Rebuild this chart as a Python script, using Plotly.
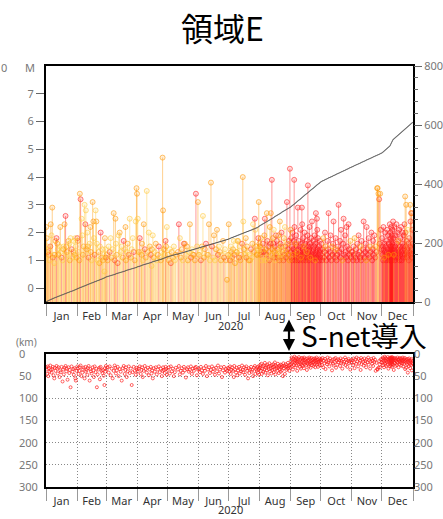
import datetime as dt
from collections import Counter
import plotly.graph_objects as go

W, H = 443, 519

# ---- data: events of 2020, grouped by month (day of month, magnitude, depth km) ----
event_day = [
    [1,1,2,2,3,3,4,5,5,6,7,7,8,9,9,10,11,12,12,13,14,15,15,16,17,18,18,19,20,21,21,22,23,24,24,25,26,27,28,28,29,30,30,31],
    [1,1,2,3,3,4,5,6,6,7,8,9,9,10,11,11,12,13,14,14,15,16,17,17,18,19,20,20,21,22,23,23,24,25,26,26,27,28,28,29,29],
    [1,2,3,4,5,6,7,8,9,10,10,11,12,13,14,15,16,17,18,19,20,20,21,22,23,24,25,26,27,28,29,30,31,31],
    [1,2,3,4,5,5,6,7,8,9,10,11,12,13,14,15,15,16,17,18,19,20,21,22,23,24,25,26,26,27,28,29,29,30],
    [1,2,3,4,5,6,7,8,9,11,12,13,14,15,16,17,18,19,20,21,22,23,24,25,26,27,28,29,30,31],
    [1,2,3,4,5,6,7,8,9,10,11,12,13,14,15,16,17,18,19,20,21,22,23,24,25,26,27,28,29,30],
    [1,1,2,3,3,4,5,6,6,7,8,9,9,10,11,12,12,13,14,15,15,16,17,18,18,19,20,21,21,22,23,24,24,25,26,27,27,28,29,29,30,30,31,31,31],
    [1,1,2,2,3,3,4,4,5,5,6,6,7,7,8,8,9,9,10,10,11,11,12,12,13,13,14,14,15,15,15,16,16,17,17,18,18,19,19,20,20,21,21,22,22,22,23,23,24,24,25,25,26,26,27,27,28,28,29,29,30,30,31,31],
    [1,1,1,2,2,2,3,3,4,4,4,5,5,5,6,6,6,7,7,7,8,8,8,9,9,10,10,10,11,11,11,12,12,12,13,13,13,14,14,14,15,15,15,16,16,17,17,17,18,18,18,19,19,19,20,20,20,21,21,21,22,22,23,23,23,24,24,24,25,25,25,26,26,26,27,27,27,28,28,29,29,29,30,30,30],
    [1,1,2,2,3,4,4,5,5,6,7,7,8,8,9,10,10,11,12,12,13,13,14,15,15,16,16,17,18,18,19,20,20,21,21,22,23,23,24,25,25,26,26,27,28,28,29,29,30,31,31],
    [1,2,2,3,3,4,5,5,6,7,7,8,9,9,10,10,11,12,12,13,14,14,15,15,16,17,17,18,19,19,20,21,21,22,22,23,24,24,25,26,26,27,28,28,29,29,30],
    [1,1,1,2,2,2,3,3,3,4,4,4,5,5,5,6,6,6,7,7,7,8,8,8,
     9,9,9,9,9,9,9,10,10,10,10,10,10,10,11,11,11,11,11,11,11,
     12,12,12,13,13,13,14,14,14,15,15,15,16,16,16,17,17,17,18,18,18,19,19,19,20,20,20,21,21,21,
     22,22,22,23,23,23,24,24,24,25,25,25,26,26,26,27,27,27,28,28,28,29,29,29,30,30,30,31,31,31],
]

event_mag = [
    [2.2,1.8,1.5,1.3,1.4,1.2,1.0,1.5,2.3,1.9, 2.9,1.1,1.2,0.9,1.2,1.7,1.8,1.6,1.4,1.2,
     1.5,2.2,1.3,1.1,1.0,1.4,1.5,2.3,2.6,1.5, 1.3,1.2,1.7,1.6,1.0,1.8,1.4,1.1,1.3,1.7, 1.2,1.8,1.5,1.1],
    [1.8,1.7,1.3,1.0,3.4,3.2,2.5,1.9,1.2,1.5, 3.0,2.3,2.8,1.4,2.0,1.5,1.1,1.6,2.2,1.3,
     1.0,3.1,2.4,1.8,1.2,2.8,2.4,1.6,1.0,1.3, 0.9,1.5,2.0,1.1,1.4,1.0,1.2,0.6,1.8,1.4, 1.1],
    [1.2,1.0,1.5,1.3,1.8,1.1,1.4,2.7,1.0,2.5, 1.6,1.2,0.9,1.9,2.0,1.3,1.5,1.1,1.7,1.4,
     2.2,1.0,1.3,1.6,1.2,2.5,1.1,1.4,1.8,1.3, 1.0,2.4,3.6,3.4],
    [2.5,1.3,1.8,1.3,1.2,1.6,1.0,2.3,1.4,1.1, 3.5,1.3,2.0,1.5,1.2,0.8,1.4,1.9,1.1,1.3,
     1.6,1.0,1.2,1.5,1.1,1.0,1.3,4.7,2.8,1.4, 1.2,1.7,1.5,2.2],
    [1.2,1.0,1.4,0.9,1.3,1.1,1.5,1.0,1.2,1.3, 2.3,1.8,1.1,1.4,1.0,1.6,1.6,1.2,1.5,1.0,
     1.3,2.3,1.1,1.4,1.2,1.2,1.0,3.4,1.5,3.1],
    [1.2,1.3,1.0,1.5,2.6,1.1,1.4,1.6,1.2,1.2, 2.3,1.0,3.8,1.5,1.1,1.9,1.0,1.4,2.1,1.2,
     1.5,1.3,1.0,1.2,1.7,1.1,1.4,1.0,0.3,1.2],
    [2.3,1.2,1.0,1.5,1.3,1.1,1.4,1.7,1.2,0.9, 1.3,1.3,1.7,1.7,1.1,1.5,1.0,1.2,1.6,4.0,
     2.4,1.4,1.2,1.8,1.1,1.5,1.3,1.0,1.2,1.0, 1.4,1.1,1.6,2.3,1.3,2.5,2.1,1.5,1.2,1.2,
     1.4,1.8,3.1,1.3,1.6],
    [1.5,1.2,1.8,1.3,1.0,1.4,1.6,1.1,1.3,1.9, 2.5,1.0,1.4,1.2,2.7,1.7,1.1,1.5,1.3,1.0,
     2.2,1.6,2.7,1.2,3.9,1.4,1.8,1.6,2.1,1.1, 1.3,1.5,1.0,1.9,1.2,1.7,1.4,1.1,1.9,1.3,
     1.0,2.4,1.6,1.2,1.5,2.0,1.1,1.3,1.4,1.0, 1.8,1.2,2.2,1.5,1.1,1.3,3.1,1.6,1.4,1.2,
     1.7,1.0,4.3,2.1],
    [1.3,1.8,1.1,1.5,1.0,2.0,1.2,1.4,1.7,3.9, 2.2,1.3,1.0,1.6,1.2,1.9,1.1,1.5,1.3,1.0,
     2.9,1.4,1.7,1.2,1.0,1.5,1.3,2.1,1.1,1.6, 1.2,2.9,2.3,1.4,1.0,1.8,1.3,1.5,1.1,2.0,
     1.2,1.6,1.0,1.4,1.7,1.3,1.1,1.9,3.7,1.5, 1.2,1.0,1.4,2.2,1.3,1.6,1.1,1.5,1.8,1.2,
     2.4,1.0,1.3,1.7,1.4,1.1,1.5,1.9,1.2,1.0, 1.6,2.7,1.3,1.1,2.5,2.1,1.4,1.8,1.2,1.5,
     1.0,1.3,1.7,1.1,1.4],
    [1.2,1.6,1.0,1.4,1.8,1.1,1.3,2.0,1.5,1.0, 1.2,1.7,1.4,2.7,1.1,1.3,1.9,1.0,1.5,1.2,
     1.6,2.4,1.3,1.1,1.8,1.4,1.0,1.2,1.5,3.0, 1.3,1.7,1.1,2.1,1.4,1.0,1.6,2.5,1.2,1.9,
     1.3,1.1,2.2,1.5,1.0,2.3,1.4,1.2,1.7,1.1, 1.3],
    [1.3,1.0,1.5,1.2,1.8,1.1,1.4,1.0,1.6,1.2, 1.9,1.3,1.1,1.5,1.0,1.7,1.2,1.4,2.4,1.1,
     1.3,1.6,1.0,2.2,1.4,1.2,1.8,1.1,1.5,1.3, 2.0,1.0,1.4,1.7,1.2,1.9,1.1,1.5,1.3,3.6,
     3.6,3.4,3.2,1.6,3.4,2.1,1.4],
    [1.8,1.2,1.5,1.0,2.2,1.4,1.1,1.6,1.3,2.0, 1.2,1.5,1.0,1.7,1.3,2.1,1.1,1.4,1.9,1.2,
     1.6,1.0,1.3,2.3,1.5,1.1,2.0,1.4,1.2,1.8, 1.0,1.3,2.2,1.5,1.1,1.7,1.4,1.9,1.2,1.0,
     1.6,2.1,1.3,1.5,1.1,2.4,1.8,1.2,1.4,2.2, 1.0,1.5,1.9,1.3,1.1,2.3,1.6,1.2,2.0,1.4,
     1.1,1.7,1.3,2.1,1.0,1.5,1.2,1.8,1.4,2.2, 1.3,1.0,1.6,2.0,1.2,1.5,1.1,1.9,1.4,2.3,
     1.2,3.3,2.0,1.5,3.0,1.3,1.7,1.1,1.4,2.1, 1.2,1.6,1.0,1.8,1.3,1.5,3.0,2.4,1.2,2.7,
     1.4,2.7,1.1,2.1,1.6],
]

event_depth = [
    [30,35,45,28,50,32,40,26,36,42, 34,29,48,55,31,38,27,33,44,30,
     52,37,41,29,62,35,46,31,27,39, 33,58,30,43,36,75,28,40,34,47, 32,55,60,38],
    [28,33,45,38,30,26,50,42,35,31, 55,29,40,36,47,32,27,60,34,39,
     44,30,37,52,28,41,33,75,46,35, 31,57,29,38,43,36,49,70,32,40, 27],
    [35,30,42,28,48,33,55,38,26,31, 44,37,29,50,34,40,60,32,27,45,
     36,30,52,39,28,43,33,70,41,29, 38,47,31,35],
    [40,33,28,45,36,30,52,38,27,34, 42,31,48,35,29,44,37,55,32,40,
     30,46,35,28,41,33,50,38,30,36, 43,29,34,47],
    [36,30,44,28,39,33,50,41,31,35, 27,46,38,32,42,29,37,53,34,30,
     40,36,28,45,33,38,31,29,48,35],
    [34,41,29,37,45,32,38,27,50,35, 30,43,36,28,40,33,47,31,39,26,
     44,35,30,52,37,29,42,34,38,31],
    [33,40,28,45,36,30,38,52,27,35, 42,31,48,37,29,44,34,39,26,36,
     41,30,47,33,28,38,55,32,43,35, 29,40,36,50,31,27,45,34,38,30,
     42,28,35,47,33],
    [30,25,38,22,45,33,28,40,26,35, 20,42,31,27,37,24,48,29,34,21,
     39,27,32,44,25,36,30,23,41,28, 35,19,46,26,33,29,38,22,31,43,
     27,34,24,40,30,25,37,28,50,21, 32,26,45,29,23,36,28,33,20,31,
     27,38,24,30],
    [15,22,8,28,12,19,35,10,25,18, 6,21,14,30,9,17,26,12,38,20,
     16,11,24,7,19,29,13,22,33,10, 18,25,9,15,27,12,20,32,8,23,
     14,19,11,26,17,36,10,21,15,24, 13,28,8,18,22,11,31,16,20,9,
     25,14,19,12,27,17,10,23,15,30, 11,20,16,8,24,13,19,29,12,18,
     22,10,26,15,14],
    [18,12,25,9,30,15,21,11,34,17, 23,8,19,14,28,10,20,16,37,13,
     22,26,11,18,9,31,15,24,12,19, 14,27,10,20,16,33,12,22,18,8,
     25,13,19,29,15,11,21,17,35,14, 20],
    [14,25,10,19,32,12,22,8,17,28, 11,20,15,36,9,23,13,18,26,10,
     21,16,30,12,19,8,24,14,33,17, 11,22,15,27,9,18,13,38,20,34,
     35,31,16,24,30,12,19],
    [12,20,8,25,15,10,30,18,6,22, 14,9,27,16,11,19,24,7,13,33,
     17,10,21,12,28,8,15,19,11,23, 14,26,9,18,12,20,7,16,29,10,
     22,13,17,8,24,15,11,36,19,9, 21,14,27,10,16,12,25,18,8,20,
     13,30,11,17,23,9,15,19,12,26, 10,16,21,14,8,28,18,12,22,15,
     9,34,17,13,31,20,11,24,16,42, 12,19,27,10,15,22,32,18,14,25,
     11,37,20,16,23],
]

mag_ticks = [0, 1, 2, 3, 4, 5, 6, 7]
count_ticks = [0, 200, 400, 600, 800]
depth_ticks = [0, 50, 100, 150, 200, 250, 300]
year_label = "2020"

# ---- event times: events sharing a day are spread across that day ----
times, mags, deps = [], [], []
for m in range(12):
    per_day = Counter(event_day[m])
    seen = Counter()
    for d, mg, dp in zip(event_day[m], event_mag[m], event_depth[m]):
        k = seen[d]
        seen[d] += 1
        frac = (k + 0.5) / per_day[d]
        times.append(dt.datetime(2020, m + 1, d) + dt.timedelta(days=frac))
        mags.append(mg)
        deps.append(dp)

GROUPS = [
    ("shallow", lambda z: z < 30, (255, 25, 25)),
    ("middle", lambda z: 30 <= z < 40, (255, 150, 0)),
    ("deep", lambda z: z >= 40, (255, 200, 60)),
]

M_BOTTOM = -0.5
XL, XR = 46 / W, 413 / W
TOP_DOM = [1 - 302 / H, 1 - 66 / H]
BOT_DOM = [1 - 487 / H, 1 - 354 / H]
X_RANGE = ["2020-01-01", "2021-01-01"]

fig = go.Figure()

# magnitude stems and heads, one trace per depth class
for name, test, (r, g, b) in GROUPS:
    sx, sy, px, py = [], [], [], []
    for t, mg, dp in zip(times, mags, deps):
        if test(dp):
            sx += [t, t, None]
            sy += [M_BOTTOM, mg, None]
            px.append(t)
            py.append(mg)
    fig.add_trace(go.Scatter(
        x=sx, y=sy, mode="lines", xaxis="x", yaxis="y",
        line=dict(color=f"rgba({r},{g},{b},0.4)", width=1.1),
        hoverinfo="skip", showlegend=False))
    fig.add_trace(go.Scatter(
        x=px, y=py, mode="markers", xaxis="x", yaxis="y",
        marker=dict(size=5, color=f"rgba({r},{g},{b},0.15)",
                    line=dict(color=f"rgba({r},{g},{b},0.55)", width=1)),
        hoverinfo="skip", showlegend=False))

# cumulative number of events
order = sorted(range(len(times)), key=lambda i: times[i])
cum_x = [dt.datetime(2020, 1, 1)] + [times[i] for i in order]
cum_y = list(range(len(cum_x)))
fig.add_trace(go.Scatter(
    x=cum_x, y=cum_y, mode="lines", xaxis="x", yaxis="y2", line_shape="hv",
    line=dict(color="#555555", width=1), hoverinfo="skip", showlegend=False))

# depth panel
fig.add_trace(go.Scatter(
    x=times, y=deps, mode="markers", xaxis="x2", yaxis="y3",
    marker=dict(symbol="circle-open", size=3, color="rgba(255,30,30,0.7)",
                line=dict(width=1)),
    hoverinfo="skip", showlegend=False, cliponaxis=False))
for ax in ("y4", "y5"):
    fig.add_trace(go.Scatter(x=[times[0]], y=[0], mode="markers", xaxis="x2", yaxis=ax,
                             marker=dict(opacity=0), hoverinfo="skip", showlegend=False))

tick_font = dict(size=11, color="#777777")
month_font = dict(size=11, color="#333333")
GRID_DASH = "1px,2px"

date_axis = dict(
    type="date", range=X_RANGE, dtick="M1", tick0="2020-01-01", tickformat="%b",
    ticklabelmode="period", ticks="outside", ticklen=12, tickwidth=1, tickcolor="#999999",
    ticklabelstandoff=-9, tickfont=month_font, showline=True, linecolor="black",
    linewidth=2, mirror=True, zeroline=False, domain=[XL, XR], automargin=False,
)

fig.update_layout(
    width=W, height=H, autosize=False,
    margin=dict(l=0, r=0, t=0, b=0, pad=0),
    paper_bgcolor="white", plot_bgcolor="white",
    font=dict(family="Noto Sans, Noto Sans CJK JP, sans-serif", size=11),
    showlegend=False,
    xaxis=dict(date_axis, anchor="y", showgrid=False),
    yaxis=dict(domain=TOP_DOM, anchor="x", range=[M_BOTTOM, 8], tickvals=mag_ticks,
               ticks="outside", ticklen=8, tickcolor="#666666", tickfont=tick_font,
               showline=True, linecolor="black", linewidth=2, mirror=True,
               showgrid=False, zeroline=False, automargin=False),
    yaxis2=dict(overlaying="y", side="right", anchor="x", range=[0, 800],
                tickvals=count_ticks, ticks="outside", ticklen=8, tickcolor="#666666",
                tickfont=tick_font, showgrid=False, zeroline=False, showline=False,
                automargin=False,
                minor=dict(dtick=40, ticks="outside", ticklen=4, tickcolor="#666666")),
    xaxis2=dict(date_axis, anchor="y3", showgrid=True, gridcolor="#888888",
                griddash=GRID_DASH, gridwidth=1),
    yaxis3=dict(domain=BOT_DOM, anchor="x2", range=[300, 0], tickvals=depth_ticks,
                showticklabels=False, ticks="", showgrid=True, gridcolor="#888888",
                griddash=GRID_DASH, gridwidth=1, showline=True, linecolor="black",
                linewidth=2, mirror=True, zeroline=False, automargin=False),
    yaxis4=dict(overlaying="y3", anchor="free", position=18 / W, side="right",
                range=[300, 0], tickvals=depth_ticks, ticks="", tickfont=tick_font,
                showgrid=False, zeroline=False, showline=False, automargin=False),
    yaxis5=dict(overlaying="y3", anchor="x2", side="right", range=[300, 0],
                tickvals=depth_ticks, ticks="", tickfont=tick_font,
                showgrid=False, zeroline=False, showline=False, automargin=False),
)

def px_ann(x, y, text, xanchor="center", **kw):
    base = dict(x=x / W, y=1 - y / H, xref="paper", yref="paper", text=text,
                showarrow=False, xanchor=xanchor, yanchor="middle")
    base.update(kw)
    fig.add_annotation(**base)

px_ann(222, 27, "領域E", font=dict(size=32, color="black", family="Noto Sans CJK JP"))
px_ann(30, 68, "M", font=tick_font)
px_ann(4, 68, "0", font=tick_font)
px_ann(230, 325, year_label, font=month_font)
px_ann(230, 509, year_label, font=month_font)
px_ann(26, 342, "(km)", font=dict(size=10, color="#777777"))
px_ann(300, 335, "S-net導入", xanchor="left", height=28, borderpad=0,
       font=dict(size=28, color="black", family="Noto Sans CJK JP"))
fig.add_annotation(x=289 / W, y=1 - 351 / H, xref="paper", yref="paper",
                   ax=0, ay=-33, axref="pixel", ayref="pixel", text="",
                   showarrow=True, arrowhead=2, arrowside="end+start",
                   arrowsize=1.1, arrowwidth=2.2, arrowcolor="black", standoff=0)

fig.write_html("out.html")
